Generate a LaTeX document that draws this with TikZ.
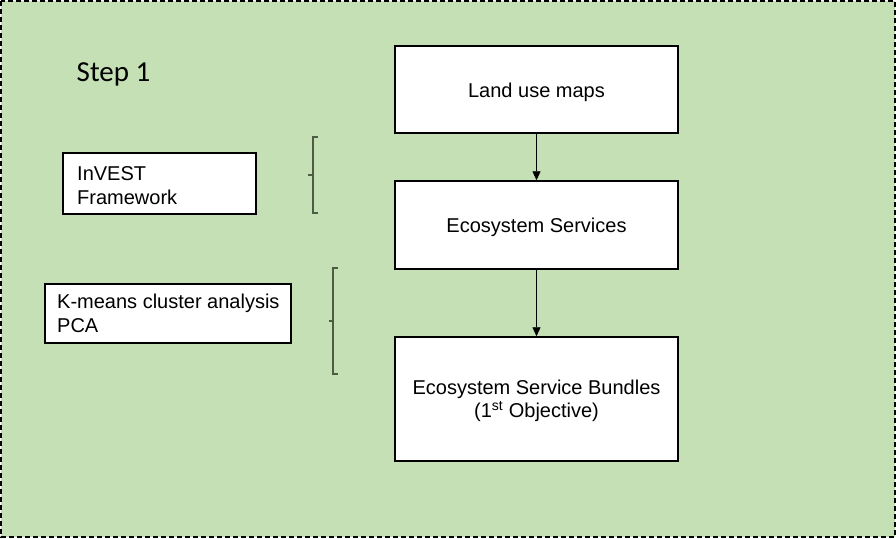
\documentclass[tikz,border=0pt]{standalone}
\usepackage{fontspec}
\setmainfont{Liberation Sans}
\newfontfamily\calfont{Carlito}
\usetikzlibrary{arrows.meta}
\definecolor{bggreen}{HTML}{C5E0B4}
\definecolor{brk}{HTML}{4E5C45}
\begin{document}
\begin{tikzpicture}[x=1pt,y=-1pt,
  box/.style={draw=black,line width=1.5pt,fill=white,inner sep=0pt,font=\fontsize{20}{23.5}\selectfont,align=center},
  lbox/.style={draw=black,line width=1.2pt,fill=white,inner sep=0pt},
  ltext/.style={anchor=west,align=left,inner sep=0pt,font=\fontsize{20}{23.5}\selectfont},
  arr/.style={-{Triangle[length=9pt,width=8pt]},line width=0.9pt},
  brace/.style={draw=brk,line width=1.3pt}]
\useasboundingbox (0,0) rectangle (896,538);
\draw[fill=bggreen,dash pattern=on 5pt off 3pt,line width=2pt] (1,1) rectangle (895,537);
\node[anchor=west,inner sep=0pt,font=\calfont\fontsize{29}{32}\selectfont] (step) at (76.5,74) {Step 1};
\node[box,minimum width=283pt,minimum height=87pt] (land) at (536.5,89.5) {};
\node[inner sep=0pt,font=\fontsize{20}{23.5}\selectfont] (landt) at (536.5,92) {Land use maps};
\node[box,minimum width=283pt,minimum height=88pt] (eco) at (536.5,225) {};
\node[inner sep=0pt,font=\fontsize{20}{23.5}\selectfont] (ecot) at (536.5,227.5) {Ecosystem Services};
\node[box,minimum width=283pt,minimum height=124pt] (bund) at (536.5,399) {};
\node[inner sep=0pt,align=center,font=\fontsize{20}{23.5}\selectfont] (bundt) at (536.5,401) {Ecosystem Service Bundles\\(1\textsuperscript{st} Objective)};
\node[lbox,minimum width=193pt,minimum height=61pt] (inv) at (159.5,183.5) {};
\node[ltext] (invt) at (77,185.5) {InVEST\\Framework};
\node[lbox,minimum width=246pt,minimum height=59pt] (km) at (168,313.5) {};
\node[ltext] (kmt) at (57,313.5) {K-means cluster analysis\\PCA};
\draw[arr] (land.south) -- (eco.north);
\draw[arr] (eco.south) -- (bund.north);
\coordinate (b1t) at (313,137);
\coordinate (b1b) at (313,213);
\coordinate (b1m) at (313,175);
\draw[brace] ([xshift=5pt]b1t) -- (b1t) -- (b1b) -- ([xshift=5pt]b1b);
\draw[brace] (b1m) -- ([xshift=-5pt]b1m);
\coordinate (b2t) at (333,268);
\coordinate (b2b) at (333,374);
\coordinate (b2m) at (333,321);
\draw[brace] ([xshift=5pt]b2t) -- (b2t) -- (b2b) -- ([xshift=5pt]b2b);
\draw[brace] (b2m) -- ([xshift=-4pt]b2m);
\end{tikzpicture}
\end{document}
